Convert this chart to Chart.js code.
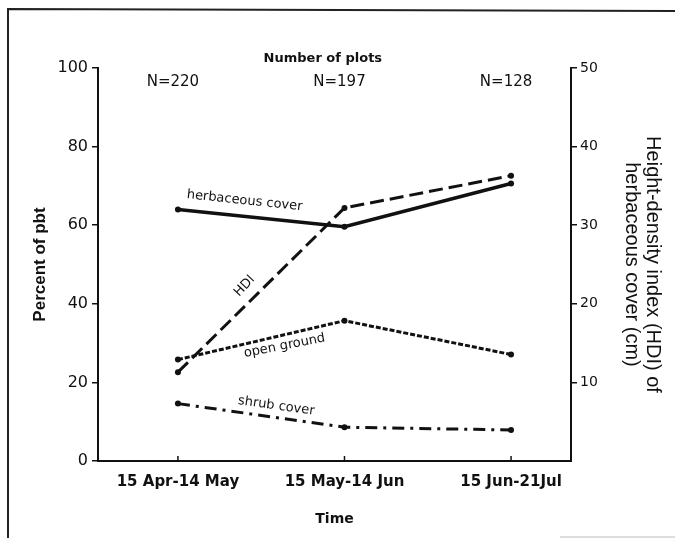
<!DOCTYPE html>
<html>
<head>
<meta charset="utf-8">
<script src="https://cdn.jsdelivr.net/npm/chart.js@4/dist/chart.umd.min.js"></script>
<style>
  html, body { margin: 0; padding: 0; background: #fff; }
  canvas { display: block; }
</style>
</head>
<body>
<canvas id="c" width="675" height="538"></canvas>
<script>
// Sampling periods (x categories) and plot counts per period
const periods = ['15 Apr-14 May', '15 May-14 Jun', '15 Jun-21Jul'];
const plotCounts = [220, 197, 128];

// Percent of plots (left axis)
const herbaceousCover = [64.0, 59.6, 70.6];
const openGround = [25.8, 35.7, 27.1];
const shrubCover = [14.6, 8.6, 7.9];

// Height-density index of herbaceous cover, cm (right axis)
const hdi = [11.3, 32.2, 36.3];

// Left / right axis tick values
const percentTicks = [0, 20, 40, 60, 80, 100];
const hdiTicks = [10, 20, 30, 40, 50];

const toPoints = arr => arr.map((v, i) => ({ x: i, y: v }));

const INK = '#111';
const labelFont = '13px "DejaVu Sans"';

// In-plot line labels, anchored in data units: [text, x, y(percent), angle deg]
const lineLabels = [
  ['herbaceous cover', 0.40, 66.2, 6],
  ['HDI', 0.40, 44.5, -47],
  ['open ground', 0.64, 29.3, -11],
  ['shrub cover', 0.59, 14.0, 8]
];

const decorations = {
  id: 'decorations',
  afterDraw(chart) {
    const { ctx, scales } = chart;
    const x = scales.x, y = scales.y;
    ctx.save();

    // outer frame
    ctx.strokeStyle = '#222';
    ctx.lineWidth = 2;
    ctx.beginPath();
    ctx.moveTo(8, 538);
    ctx.lineTo(8, 9);
    ctx.lineTo(675, 11);
    ctx.stroke();
    ctx.strokeStyle = '#bbb';
    ctx.lineWidth = 1;
    ctx.beginPath();
    ctx.moveTo(560, 537);
    ctx.lineTo(675, 537);
    ctx.stroke();

    // inward tick marks on the time axis
    ctx.strokeStyle = INK;
    ctx.lineWidth = 1.5;
    x.ticks.forEach(t => {
      const px = x.getPixelForValue(t.value);
      ctx.beginPath();
      ctx.moveTo(px, x.top);
      ctx.lineTo(px, x.top - 5);
      ctx.stroke();
    });

    ctx.fillStyle = INK;
    ctx.textAlign = 'center';
    ctx.textBaseline = 'middle';

    // header and plot counts
    ctx.font = 'bold 13px "DejaVu Sans"';
    ctx.fillText('Number of plots', x.getPixelForValue(0.87), y.getPixelForValue(102.5));
    ctx.font = '15px "DejaVu Sans"';
    plotCounts.forEach((n, i) => {
      ctx.fillText('N=' + n, x.getPixelForValue(i - 0.03), y.getPixelForValue(96.4));
    });

    // line labels
    ctx.font = labelFont;
    lineLabels.forEach(([text, lx, ly, ang]) => {
      ctx.save();
      ctx.translate(x.getPixelForValue(lx), y.getPixelForValue(ly));
      ctx.rotate(ang * Math.PI / 180);
      ctx.fillText(text, 0, 0);
      ctx.restore();
    });
    ctx.restore();
  }
};

new Chart(document.getElementById('c'), {
  type: 'line',
  data: {
    datasets: [
      {
        label: 'herbaceous cover',
        data: toPoints(herbaceousCover),
        yAxisID: 'y',
        borderColor: INK,
        borderWidth: 3.5,
        pointRadius: 3,
        pointBackgroundColor: INK,
        pointBorderWidth: 0
      },
      {
        label: 'HDI',
        data: toPoints(hdi),
        yAxisID: 'y1',
        borderColor: INK,
        borderWidth: 3,
        borderDash: [14, 6],
        pointRadius: 3,
        pointBackgroundColor: INK,
        pointBorderWidth: 0
      },
      {
        label: 'open ground',
        data: toPoints(openGround),
        yAxisID: 'y',
        borderColor: INK,
        borderWidth: 3,
        borderDash: [5, 2],
        pointRadius: 3,
        pointBackgroundColor: INK,
        pointBorderWidth: 0
      },
      {
        label: 'shrub cover',
        data: toPoints(shrubCover),
        yAxisID: 'y',
        borderColor: INK,
        borderWidth: 3,
        borderDash: [12, 6, 3, 6],
        pointRadius: 3,
        pointBackgroundColor: INK,
        pointBorderWidth: 0
      }
    ]
  },
  options: {
    responsive: false,
    animation: false,
    layout: { padding: { top: 68, left: 0, right: 0, bottom: 0 } },
    plugins: { legend: { display: false }, tooltip: { enabled: false } },
    elements: { line: { tension: 0 } },
    scales: {
      x: {
        type: 'linear',
        position: 'bottom',
        min: -0.48,
        max: 2.36,
        afterBuildTicks: s => { s.ticks = periods.map((_, i) => ({ value: i })); },
        afterFit: s => { s.height = 77; },
        grid: { display: false },
        border: { display: true, color: INK, width: 2 },
        ticks: {
          callback: v => periods[v],
          autoSkip: false,
          maxRotation: 0,
          padding: 4,
          color: INK,
          font: { family: 'DejaVu Sans', size: 15, weight: 'bold' }
        },
        title: {
          display: true,
          text: 'Time',
          color: INK,
          font: { family: 'DejaVu Sans', size: 14, weight: 'bold' },
          padding: { top: 0, bottom: 10 }
        }
      },
      y: {
        position: 'left',
        min: 0,
        max: 100,
        afterBuildTicks: s => { s.ticks = percentTicks.map(v => ({ value: v })); },
        afterFit: s => { s.width = 98; },
        grid: { drawOnChartArea: false, drawTicks: true, tickLength: 6, color: INK, lineWidth: 1.5 },
        border: { display: true, color: INK, width: 2 },
        ticks: {
          padding: 4,
          color: INK,
          font: { family: 'DejaVu Sans', size: 16 }
        },
        title: {
          display: true,
          text: 'Percent of pbt',
          color: INK,
          font: { family: 'Liberation Sans', size: 17, weight: 'bold' },
          padding: { top: 30, bottom: 0 }
        }
      },
      y1: {
        position: 'right',
        min: 0,
        max: 50,
        afterBuildTicks: s => { s.ticks = hdiTicks.map(v => ({ value: v })); },
        afterFit: s => { s.width = 104; },
        grid: { drawOnChartArea: false, drawTicks: true, tickLength: 6, color: INK, lineWidth: 1.5 },
        border: { display: true, color: INK, width: 2 },
        ticks: {
          padding: 3,
          color: INK,
          font: { family: 'DejaVu Sans', size: 14 }
        },
        title: {
          display: true,
          text: ['Height-density index (HDI) of', 'herbaceous cover (cm)'],
          color: INK,
          font: { family: 'Liberation Sans', size: 20, lineHeight: 1.05 },
          padding: { top: 12, bottom: 0 }
        }
      }
    }
  },
  plugins: [decorations]
});
</script>
</body>
</html>
